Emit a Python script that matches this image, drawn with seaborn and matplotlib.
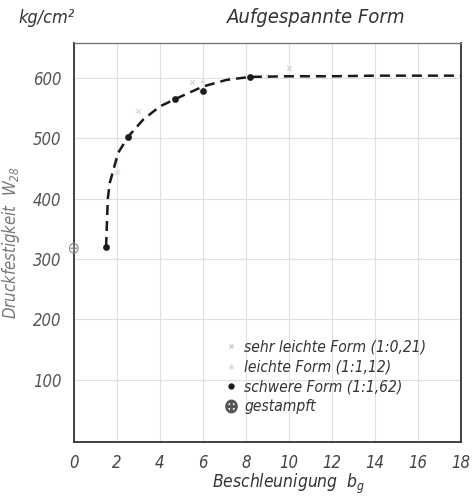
import matplotlib
matplotlib.use("Agg")
import matplotlib.pyplot as plt
from matplotlib import font_manager as fm
import seaborn as sns
import pandas as pd
from matplotlib.lines import Line2D

# --- data ---
curve_x = [1.5, 1.58, 1.67, 2.06, 2.53, 3.22, 4.0, 4.7, 6.0, 7.1, 8.2, 10, 12, 14, 16, 18]
curve_y = [320, 400, 426, 476, 503, 531, 553, 565, 586, 597, 602, 603, 603, 604, 604, 604]

schwer_x = [1.5, 2.5, 4.7, 6.0, 8.2]
schwer_y = [320, 502, 565, 578, 601]

sehr_leicht_x = [2.0, 3.0, 5.5, 10.0]
sehr_leicht_y = [445, 545, 593, 616]

leicht_x = [2.6, 6.0, 7.2, 9.0]
leicht_y = [508, 596, 600, 604]

gestampft_x = [0.0]
gestampft_y = [318]

x_ticks = [0, 2, 4, 6, 8, 10, 12, 14, 16, 18]
y_ticks = [100, 200, 300, 400, 500, 600]

legend_labels = ["sehr leichte Form (1:0,21)", "leichte Form (1:1,12)",
                 "schwere Form (1:1,62)", "gestampft"]

sns.set_style("white")
names = {f.name for f in fm.fontManager.ttflist}
if "Liberation Sans Narrow" in names:
    FONT = ["Liberation Sans Narrow", "DejaVu Sans"]
    STRETCH = "normal"
else:
    FONT = ["DejaVu Sans"]
    STRETCH = "condensed"
plt.rcParams["font.family"] = FONT
plt.rcParams["font.style"] = "italic"
plt.rcParams["font.stretch"] = STRETCH

fig = plt.figure(figsize=(4.73, 5.01), dpi=100)
ax = fig.add_axes([0.156, 0.118, 0.819, 0.796])

ink = "#1a1a1a"
grid_c = "#e0e0e0"

df_curve = pd.DataFrame({"x": curve_x, "y": curve_y})
sns.lineplot(data=df_curve, x="x", y="y", ax=ax, color=ink, lw=1.8,
             linestyle=(0, (4, 2.4)), sort=False, zorder=4)

sns.scatterplot(x=schwer_x, y=schwer_y, ax=ax, color=ink, s=20,
                marker="o", edgecolor=ink, zorder=5)
sns.scatterplot(x=sehr_leicht_x, y=sehr_leicht_y, ax=ax, color="#d5d5d5",
                s=12, marker="x", linewidth=0.8, zorder=3)
sns.scatterplot(x=leicht_x, y=leicht_y, ax=ax, color="#dddddd",
                s=12, marker="^", edgecolor="none", zorder=3)
sns.scatterplot(x=gestampft_x, y=gestampft_y, ax=ax, color="#888888",
                s=60, marker=r"$\oplus$", edgecolor="none", zorder=6,
                clip_on=False)

ax.set_xlim(0, 18)
ax.set_ylim(-3, 658)
ax.set_xticks(x_ticks)
ax.set_yticks(y_ticks)
ax.set_xticklabels([str(t) for t in x_ticks], fontsize=12, color="#444444",
                   style="italic", stretch=STRETCH)
ax.set_yticklabels([str(t) for t in y_ticks], fontsize=12, color="#555555",
                   style="italic", stretch=STRETCH)
ax.tick_params(axis="both", length=0, pad=9)
ax.grid(True, color=grid_c, lw=0.8)
for side in ["left", "bottom", "top", "right"]:
    ax.spines[side].set_color("#333333")
    ax.spines[side].set_linewidth(1.3)
ax.spines["top"].set_color("#777777")
ax.spines["top"].set_linewidth(1.0)

ax.set_xlabel("Beschleunigung  $b_g$", fontsize=12.5, color="#333333",
              style="italic", stretch=STRETCH)
ax.xaxis.set_label_coords(0.555, -0.075)
ax.set_ylabel("Druckfestigkeit  $W_{28}$", fontsize=12, color="#777777",
              style="italic", stretch=STRETCH, labelpad=8)

fig.text(0.038, 0.955, "kg/cm²", fontsize=13, color="#333333",
         style="italic", stretch=STRETCH)
fig.text(0.668, 0.955, "Aufgespannte Form", fontsize=14.5, color="#333333",
         style="italic", stretch=STRETCH, ha="center")

handles = [
    Line2D([], [], ls="none", marker="x", color="#d0d0d0", ms=3),
    Line2D([], [], ls="none", marker="^", color="#e0e0e0", ms=3),
    Line2D([], [], ls="none", marker="o", color=ink, ms=3.5),
    Line2D([], [], ls="none", marker=r"$\oplus$", color="#555555", ms=9),
]
leg = ax.legend(handles, legend_labels, loc="lower left",
                bbox_to_anchor=(0.37, 0.05), frameon=False,
                prop={"size": 11.2, "style": "italic", "stretch": STRETCH},
                handlelength=0.8, handletextpad=0.45, labelspacing=0.32,
                borderpad=0)
for t in leg.get_texts():
    t.set_color("#333333")

fig.savefig("out.png", dpi=100, facecolor="white")
